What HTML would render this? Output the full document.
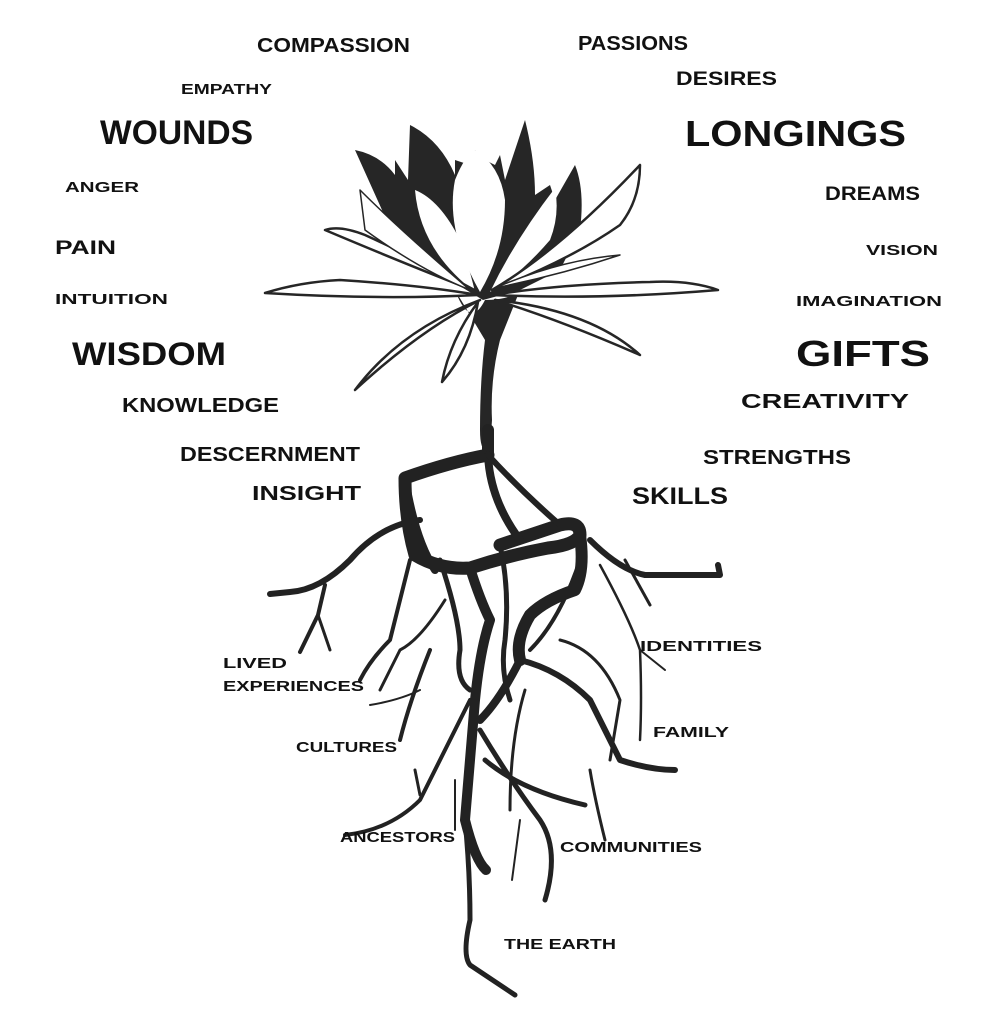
<!DOCTYPE html>
<html><head><meta charset="utf-8"><style>
html,body{margin:0;padding:0;background:#fff}
svg text{font-family:"Liberation Sans",sans-serif;font-weight:bold;fill:#111}
</style></head><body>
<svg width="1004" height="1014" viewBox="0 0 1004 1014" xmlns="http://www.w3.org/2000/svg">
<rect width="1004" height="1014" fill="#fff"/>
<!-- dark mass of flower -->
<g fill="#262626">
<path d="M483 300 L400 250 L355 150 Q380 155 395 175 L395 160 L408 180 L410 125 Q440 140 455 175 L455 160 L470 165 L475 150 L485 160 L495 165 L500 155 L505 180 L525 120 Q535 160 535 195 L550 185 L555 200 L575 165 Q585 190 580 230 L560 270 L520 290 Z"/>
<path d="M455 290 Q470 330 485 300 Q510 300 520 290 L500 340 Q490 380 492 420 L490 450 Q480 455 480 430 Q480 380 485 340 Z"/>
</g>
<!-- white petals -->
<g fill="#fff" stroke="#262626" stroke-width="2.5" stroke-linejoin="round">
<path d="M480 292 Q445 230 455 180 Q465 155 475 150 Q500 165 505 200 Q505 250 480 292 Z" stroke="none"/>
<path d="M475 292 Q420 250 415 190 Q440 200 460 240 Q470 270 475 292 Z" stroke="none"/>
<path d="M490 292 Q515 240 555 188 Q560 215 550 240 Q520 275 490 292 Z" stroke="none"/>
<path d="M478 295 Q380 300 265 293 Q300 282 340 280 Q420 285 478 295 Z"/>
<path d="M478 292 Q420 270 325 230 Q340 225 365 235 Q420 260 478 292 Z"/>
<path d="M360 190 Q400 230 470 290 Q420 270 365 230 Z" stroke-width="1.5"/>
<path d="M492 295 Q600 300 718 290 Q690 280 650 282 Q560 284 492 295 Z"/>
<path d="M492 290 Q560 250 640 165 Q640 200 620 225 Q570 260 492 290 Z"/>
<path d="M495 288 Q560 260 620 255 Q560 275 495 288 Z" stroke-width="1.5"/>
<path d="M480 300 Q420 330 355 390 Q400 330 480 300 Z"/>
<path d="M478 302 Q450 340 442 382 Q470 350 478 302 Z"/>
<path d="M495 300 Q560 320 640 355 Q590 310 495 300 Z"/>
</g>
<!-- roots -->
<g fill="none" stroke="#222" stroke-linecap="round" stroke-linejoin="round">
<path d="M488 430 L488 455" stroke-width="12"/>
<path d="M488 455 Q450 462 405 478 Q405 520 415 555 Q440 570 470 568 Q510 555 548 548 Q575 545 580 535 Q580 520 560 525 Q530 535 500 545" stroke-width="13"/>
<path d="M405 478 Q415 540 435 570" stroke-width="8"/>
<path d="M488 455 Q490 500 520 540" stroke-width="8"/>
<path d="M488 455 Q520 490 560 525" stroke-width="6"/>
<path d="M580 535 Q585 570 575 590 Q545 600 530 615 Q515 640 520 660" stroke-width="12"/>
<path d="M470 568 Q480 600 490 620 Q480 650 475 700 Q470 760 465 820 Q475 860 486 870" stroke-width="10"/>
<path d="M520 660 Q500 700 480 720" stroke-width="8"/>
<path d="M440 560 Q460 620 460 650 Q455 680 470 690" stroke-width="5"/>
<path d="M500 545 Q510 590 505 640 Q500 670 510 700" stroke-width="5"/>
<path d="M580 560 Q560 620 530 650" stroke-width="4"/>
<path d="M465 820 Q470 870 470 920 Q462 955 470 965 Q500 985 515 995" stroke-width="5"/>
<path d="M480 730 Q510 780 540 820 Q560 850 545 900" stroke-width="5"/>
<path d="M485 760 Q520 790 585 805" stroke-width="5"/>
<path d="M520 660 Q560 670 590 700 Q610 740 620 760 Q650 770 675 770" stroke-width="6"/>
<path d="M560 640 Q600 650 620 700 L610 760" stroke-width="3"/>
<path d="M525 690 Q510 740 510 810" stroke-width="3"/>
<path d="M420 520 Q380 525 350 560 Q320 590 290 592 L270 594" stroke-width="6"/>
<path d="M325 585 L318 615 L300 652" stroke-width="4"/>
<path d="M318 615 L330 650" stroke-width="3"/>
<path d="M410 560 Q400 600 390 640 Q370 660 360 680" stroke-width="4"/>
<path d="M445 600 Q420 640 400 650 Q390 670 380 690" stroke-width="3"/>
<path d="M430 650 Q410 700 400 740" stroke-width="4"/>
<path d="M370 705 Q400 700 420 690" stroke-width="2"/>
<path d="M470 700 Q440 760 420 800 Q390 830 345 835" stroke-width="4"/>
<path d="M415 770 L420 795" stroke-width="3"/>
<path d="M590 540 Q620 570 645 575 L720 575 L718 565" stroke-width="6"/>
<path d="M625 560 L650 605" stroke-width="3"/>
<path d="M600 565 Q630 620 640 650 Q642 700 640 740" stroke-width="2.5"/>
<path d="M640 650 L665 670" stroke-width="2"/>
<path d="M520 820 L512 880" stroke-width="2"/>
<path d="M455 780 L455 830" stroke-width="2"/>
<path d="M590 770 Q595 800 605 840" stroke-width="3"/>
</g>
<!-- labels -->
<text x="257" y="52" font-size="20" textLength="153" lengthAdjust="spacingAndGlyphs">COMPASSION</text>
<text x="578" y="50" font-size="20" textLength="110" lengthAdjust="spacingAndGlyphs">PASSIONS</text>
<text x="181" y="94" font-size="15" textLength="91" lengthAdjust="spacingAndGlyphs">EMPATHY</text>
<text x="676" y="85" font-size="19" textLength="101" lengthAdjust="spacingAndGlyphs">DESIRES</text>
<text x="100" y="144" font-size="34" textLength="153" lengthAdjust="spacingAndGlyphs">WOUNDS</text>
<text x="685" y="146" font-size="36" textLength="221" lengthAdjust="spacingAndGlyphs">LONGINGS</text>
<text x="65" y="192" font-size="15" textLength="74" lengthAdjust="spacingAndGlyphs">ANGER</text>
<text x="825" y="200" font-size="19" textLength="95" lengthAdjust="spacingAndGlyphs">DREAMS</text>
<text x="55" y="254" font-size="19" textLength="61" lengthAdjust="spacingAndGlyphs">PAIN</text>
<text x="866" y="255" font-size="15" textLength="72" lengthAdjust="spacingAndGlyphs">VISION</text>
<text x="55" y="304" font-size="15" textLength="113" lengthAdjust="spacingAndGlyphs">INTUITION</text>
<text x="796" y="306" font-size="15" textLength="146" lengthAdjust="spacingAndGlyphs">IMAGINATION</text>
<text x="72" y="365" font-size="32" textLength="154" lengthAdjust="spacingAndGlyphs">WISDOM</text>
<text x="796" y="366" font-size="36" textLength="134" lengthAdjust="spacingAndGlyphs">GIFTS</text>
<text x="122" y="412" font-size="20" textLength="157" lengthAdjust="spacingAndGlyphs">KNOWLEDGE</text>
<text x="741" y="408" font-size="20" textLength="168" lengthAdjust="spacingAndGlyphs">CREATIVITY</text>
<text x="180" y="461" font-size="20" textLength="180" lengthAdjust="spacingAndGlyphs">DESCERNMENT</text>
<text x="703" y="464" font-size="20" textLength="148" lengthAdjust="spacingAndGlyphs">STRENGTHS</text>
<text x="252" y="500" font-size="20" textLength="109" lengthAdjust="spacingAndGlyphs">INSIGHT</text>
<text x="632" y="504" font-size="24" textLength="96" lengthAdjust="spacingAndGlyphs">SKILLS</text>
<text x="640" y="651" font-size="15" textLength="122" lengthAdjust="spacingAndGlyphs">IDENTITIES</text>
<text x="223" y="668" font-size="15" textLength="64" lengthAdjust="spacingAndGlyphs">LIVED</text>
<text x="223" y="691" font-size="15" textLength="141" lengthAdjust="spacingAndGlyphs">EXPERIENCES</text>
<text x="653" y="737" font-size="15" textLength="76" lengthAdjust="spacingAndGlyphs">FAMILY</text>
<text x="296" y="752" font-size="15" textLength="101" lengthAdjust="spacingAndGlyphs">CULTURES</text>
<text x="340" y="842" font-size="15" textLength="115" lengthAdjust="spacingAndGlyphs">ANCESTORS</text>
<text x="560" y="852" font-size="15" textLength="142" lengthAdjust="spacingAndGlyphs">COMMUNITIES</text>
<text x="504" y="949" font-size="15" textLength="112" lengthAdjust="spacingAndGlyphs">THE EARTH</text>
</svg>
</body></html>
